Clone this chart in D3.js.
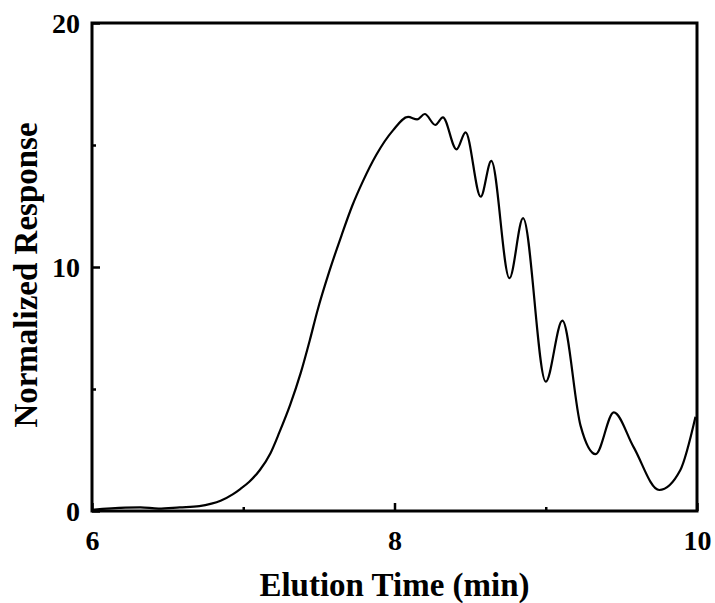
<!DOCTYPE html>
<html>
<head>
<meta charset="utf-8">
<script src="https://cdn.jsdelivr.net/npm/d3@7"></script>
<style>
  body { margin: 0; background: #fff; }
  text { font-family: "Liberation Serif", "Times New Roman", serif; font-weight: bold; fill: #000; }
</style>
</head>
<body>
<svg id="chart"></svg>
<script>
// elution time (min)
var times = [6.0, 6.22, 6.32, 6.44, 6.58, 6.71, 6.79, 6.85, 6.93, 6.98, 7.04, 7.11, 7.18, 7.24, 7.31, 7.38,
    7.44, 7.49, 7.57, 7.65, 7.72, 7.79, 7.88, 7.99, 8.09, 8.15, 8.20, 8.27, 8.32, 8.41, 8.47, 8.57,
    8.64, 8.76, 8.85, 9.0, 9.11, 9.23, 9.33, 9.45, 9.58, 9.75, 9.89, 9.99];
// normalized response
var response = [0.05, 0.14, 0.15, 0.1, 0.15, 0.2, 0.3, 0.42, 0.68, 0.9, 1.2, 1.68, 2.37, 3.24, 4.35, 5.66,
    7.0, 8.2, 9.84, 11.3, 12.5, 13.5, 14.6, 15.6, 16.15, 16.05, 16.27, 15.82, 16.13, 14.82, 15.52, 12.88,
    14.35, 9.54, 12.0, 5.3, 7.8, 3.5, 2.33, 4.04, 2.63, 0.86, 1.68, 3.86];
var xTicks = [6, 8, 10];
var xMinor = [7, 9];
var yTicks = [0, 10, 20];
var yMinor = [5, 15];

var margin = {top: 23, left: 92, right: 18, bottom: 92};
var chartWidth = 605;
var chartHeight = 488;

var data = times.map(function (t, i) { return {t: t, v: response[i]}; });

var svg = d3.select('#chart')
    .attr("width", 715)
    .attr("height", 603);

var chartArea = svg.append('g')
    .attr("transform", `translate(${margin.left},${margin.top})`);

var xScale = d3.scaleLinear().domain([6, 10]).range([0, chartWidth]);
var yScale = d3.scaleLinear().domain([0, 20]).range([chartHeight, 0]);

var line = d3.line()
    .x(d => xScale(d.t))
    .y(d => yScale(d.v))
    .curve(d3.curveMonotoneX);

chartArea.append('path')
    .datum(data)
    .attr("fill", "none")
    .attr("stroke", "#000")
    .attr("stroke-width", 2.2)
    .attr("d", line);

// axes, ticks pointing inward
var xAxis = chartArea.append('g')
    .attr('transform', `translate(0,${chartHeight})`)
    .call(d3.axisBottom(xScale).tickValues(xTicks).tickSize(-8).tickPadding(19).tickFormat(d3.format('d')));
var yAxis = chartArea.append('g')
    .call(d3.axisLeft(yScale).tickValues(yTicks).tickSize(-8).tickPadding(12).tickFormat(d3.format('d')));

chartArea.append('g')
    .attr('transform', `translate(0,${chartHeight})`)
    .call(d3.axisBottom(xScale).tickValues(xMinor).tickSize(-4).tickFormat(''));
chartArea.append('g')
    .call(d3.axisLeft(yScale).tickValues(yMinor).tickSize(-4).tickFormat(''));

chartArea.selectAll('.domain').remove();
chartArea.selectAll('.tick line').attr('stroke', '#000').attr('stroke-width', 2.5);
chartArea.selectAll('.tick text')
    .style('font-size', '28px')
    .style('font-family', '"Liberation Serif", serif')
    .style('font-weight', 'bold');
yAxis.selectAll('.tick text').attr('dy', '0.35em');

// frame
chartArea.append('rect')
    .attr('width', chartWidth)
    .attr('height', chartHeight)
    .attr('fill', 'none')
    .attr('stroke', '#000')
    .attr('stroke-width', 3);

// axis labels
chartArea.append('text')
    .attr('x', chartWidth / 2)
    .attr('y', chartHeight + 85)
    .attr('text-anchor', 'middle')
    .style('font-size', '33px')
    .text('Elution Time (min)');
chartArea.append('text')
    .attr('transform', `translate(-55,${chartHeight / 2 + 8}) rotate(-90)`)
    .attr('text-anchor', 'middle')
    .style('font-size', '33px')
    .text('Normalized Response');
</script>
</body>
</html>
